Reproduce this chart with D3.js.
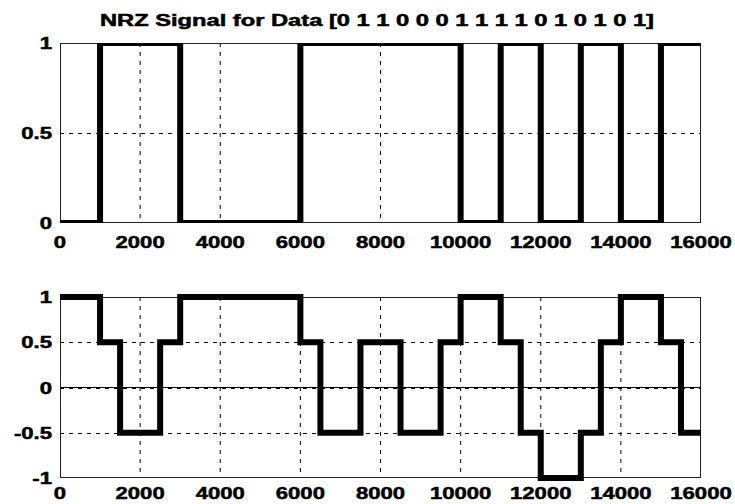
<!DOCTYPE html>
<html>
<head>
<meta charset="utf-8">
<script src="https://cdn.jsdelivr.net/npm/d3@7"></script>
<style>
  body { margin: 0; background: #fff; }
  text { font-family: "Liberation Sans", Arial, sans-serif; font-weight: bold; fill: #000; stroke: #000; stroke-width: 0.5px; }
</style>
</head>
<body>
<div id="chart"></div>
<script>
// data
const bits = [0, 1, 1, 0, 0, 0, 1, 1, 1, 1, 0, 1, 0, 1, 0, 1];
const bitTimes = [0, 1000, 2000, 3000, 4000, 5000, 6000, 7000, 8000, 9000, 10000, 11000, 12000, 13000, 14000, 15000, 16000];
const pulseEdges = [0, 1000, 1500, 2500, 3000, 6000, 6500, 7500, 8500, 9500, 10000, 11000, 11500, 12000, 13000, 13500, 14000, 15000, 15500, 16000];
const pulseLevels = [1, 0.5, -0.5, 0.5, 1, 0.5, -0.5, 0.5, -0.5, 0.5, 1, 0.5, -0.5, -1, -0.5, 0.5, 1, 0.5, -0.5];
const xTicks = [0, 2000, 4000, 6000, 8000, 10000, 12000, 14000, 16000];
const yTicksTop = [0, 0.5, 1];
const yTicksBottom = [-1, -0.5, 0, 0.5, 1];
const title = 'NRZ Signal for Data [0 1 1 0 0 0 1 1 1 1 0 1 0 1 0 1]';

const width = 735, height = 504;
const left = 60, right = 701;
const stretch = 1.3;

const svg = d3.select('#chart').append('svg')
  .attr('width', width).attr('height', height);

const x = d3.scaleLinear().domain([0, 16000]).range([left, right]);

// widen the text a bit, the original font is a heavy wide one
function widen(sel) {
  sel.each(function () {
    const w = this.getComputedTextLength();
    this.setAttribute('textLength', w * stretch);
    this.setAttribute('lengthAdjust', 'spacingAndGlyphs');
  });
}

function drawPanel(top, bottom, yDomain, yTicks, points, clip, zeroLine, labelGap) {
  const y = d3.scaleLinear().domain(yDomain).range([bottom, top]);
  const g = svg.append('g');
  const clipId = 'clip' + top;

  g.append('clipPath').attr('id', clipId)
    .append('rect')
    .attr('x', left).attr('y', top)
    .attr('width', right - left).attr('height', bottom - top);

  // dashed grid
  g.append('g')
    .selectAll('line')
    .data(xTicks.slice(1, -1))
    .join('line')
    .attr('x1', d => x(d)).attr('x2', d => x(d))
    .attr('y1', top).attr('y2', bottom)
    .attr('stroke', '#000').attr('stroke-width', 1)
    .attr('stroke-dasharray', '4,5');
  g.append('g')
    .selectAll('line')
    .data(yTicks.slice(1, -1))
    .join('line')
    .attr('x1', left).attr('x2', right)
    .attr('y1', d => Math.round(y(d)) + 0.5).attr('y2', d => Math.round(y(d)) + 0.5)
    .attr('stroke', '#000').attr('stroke-width', 1)
    .attr('stroke-dasharray', '4,5');

  if (zeroLine) {
    g.append('line')
      .attr('x1', x(0)).attr('x2', x(16000))
      .attr('y1', Math.round(y(0)) - 0.5).attr('y2', Math.round(y(0)) - 0.5)
      .attr('stroke', '#000').attr('stroke-width', 1);
  }

  // axes box
  g.append('rect')
    .attr('x', left + 0.5).attr('y', top + 0.5)
    .attr('width', right - left - 1).attr('height', bottom - top - 1)
    .attr('fill', 'none').attr('stroke', '#222').attr('stroke-width', 1);

  // signal
  const line = d3.line()
    .x(d => x(d[0]))
    .y(d => y(d[1]))
    .curve(d3.curveStepAfter);
  g.append('path')
    .datum(points)
    .attr('d', line)
    .attr('fill', 'none')
    .attr('stroke', '#000')
    .attr('stroke-width', 6)
    .attr('clip-path', clip ? `url(#${clipId})` : null);

  // tick labels
  g.append('g')
    .selectAll('text')
    .data(xTicks)
    .join('text')
    .attr('x', d => x(d))
    .attr('y', bottom + labelGap)
    .attr('text-anchor', 'middle')
    .attr('font-size', 17)
    .text(d => d)
    .call(widen);
  g.append('g')
    .selectAll('text')
    .data(yTicks)
    .join('text')
    .attr('x', left - 8)
    .attr('y', d => y(d) + 6)
    .attr('text-anchor', 'end')
    .attr('font-size', 17)
    .text(d => d)
    .call(widen);
}

const topPoints = bits.map((b, i) => [bitTimes[i], b]).concat([[bitTimes[bits.length], bits[bits.length - 1]]]);
const bottomPoints = pulseLevels.map((v, i) => [pulseEdges[i], v]).concat([[pulseEdges[pulseLevels.length], pulseLevels[pulseLevels.length - 1]]]);

drawPanel(43, 223, [0, 1], yTicksTop, topPoints, true, false, 25);
drawPanel(297, 478, [-1, 1], yTicksBottom, bottomPoints, false, true, 21);

svg.append('text')
  .attr('x', 100)
  .attr('y', 26)
  .attr('font-size', 16)
  .attr('textLength', 554)
  .attr('lengthAdjust', 'spacingAndGlyphs')
  .text(title);
</script>
</body>
</html>
